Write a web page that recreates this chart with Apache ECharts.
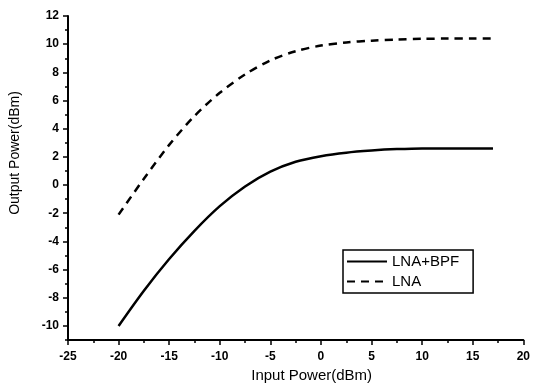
<!DOCTYPE html>
<html>
<head>
<meta charset="utf-8">
<script src="https://cdn.jsdelivr.net/npm/echarts@6/dist/echarts.min.js"></script>
<style>
  html, body { margin: 0; padding: 0; background: #fff; }
  #chart { width: 533px; height: 389px; }
</style>
</head>
<body>
<div id="chart"></div>
<script>
// input power (dBm)
const inputPower = [-20, -17.5, -15, -12.5, -10, -7.5, -5, -2.5, 0, 2.5, 5, 7.5, 10, 12.5, 15, 17];
// output power (dBm)
const lnaBpf = [-10, -7.5, -5.25, -3.25, -1.5, -0.1, 0.95, 1.65, 2.05, 2.3, 2.45, 2.55, 2.6, 2.6, 2.6, 2.6];
const lna = [-2.1, 0.45, 2.85, 4.9, 6.55, 7.85, 8.85, 9.5, 9.9, 10.12, 10.25, 10.33, 10.38, 10.4, 10.4, 10.4];
const yMajor = [-10, -8, -6, -4, -2, 0, 2, 4, 6, 8, 10, 12];
const yMinor = [-11, -9, -7, -5, -3, -1, 1, 3, 5, 7, 9, 11];

const font = 'Liberation Sans, Arial, sans-serif';

const chart = echarts.init(document.getElementById('chart'));

chart.setOption({
  backgroundColor: '#fff',
  animation: false,
  grid: { left: 67, right: 7, top: 16, bottom: 49 },
  legend: {
    orient: 'vertical',
    left: 343,
    top: 250,
    itemWidth: 40,
    itemHeight: 14,
    itemGap: 5,
    padding: [4, 14, 4, 3],
    borderColor: '#000',
    borderWidth: 1.5,
    itemStyle: { opacity: 0 },
    textStyle: { fontFamily: font, fontSize: 15, color: '#000' },
    data: ['LNA+BPF', 'LNA']
  },
  xAxis: {
    type: 'value',
    min: -25,
    max: 20,
    interval: 5,
    name: 'Input Power(dBm)',
    nameLocation: 'middle',
    nameGap: 28,
    nameTextStyle: { fontFamily: font, fontSize: 15, color: '#000', padding: [0, 0, 0, 32] },
    axisLine: { onZero: false, lineStyle: { color: '#000', width: 2 } },
    axisTick: { length: 5, lineStyle: { color: '#000', width: 1.5 } },
    minorTick: { show: true, splitNumber: 2, length: 3, lineStyle: { color: '#000', width: 1.5 } },
    axisLabel: { fontFamily: font, fontSize: 12, fontWeight: 'bold', color: '#000', margin: 11 },
    splitLine: { show: false }
  },
  yAxis: [
    {
      type: 'value',
      position: 'left',
      min: -11,
      max: 12,
      name: 'Output Power(dBm)',
      nameLocation: 'middle',
      nameGap: 46,
      nameTextStyle: { fontFamily: font, fontSize: 14, color: '#000', padding: [0, 0, 0, 50] },
      axisLine: { show: true, onZero: false, lineStyle: { color: '#000', width: 2 } },
      axisTick: { show: true, length: 5, customValues: yMajor, lineStyle: { color: '#000', width: 1.5 } },
      axisLabel: { customValues: yMajor, fontFamily: font, fontSize: 12, fontWeight: 'bold', color: '#000', margin: 9 },
      splitLine: { show: false }
    },
    {
      type: 'value',
      position: 'left',
      min: -11,
      max: 12,
      axisLine: { show: false, onZero: false },
      axisTick: { show: true, length: 3, customValues: yMinor, lineStyle: { color: '#000', width: 1.5 } },
      axisLabel: { show: false },
      splitLine: { show: false }
    }
  ],
  series: [
    {
      name: 'LNA+BPF',
      type: 'line',
      yAxisIndex: 0,
      smooth: 0.3,
      symbol: 'none',
      data: inputPower.map((x, i) => [x, lnaBpf[i]]),
      lineStyle: { color: '#000', width: 2.5 },
      itemStyle: { color: '#000' }
    },
    {
      name: 'LNA',
      type: 'line',
      yAxisIndex: 0,
      smooth: 0.3,
      symbol: 'none',
      data: inputPower.map((x, i) => [x, lna[i]]),
      lineStyle: { color: '#000', width: 2.5, type: [8, 6] },
      itemStyle: { color: '#000' }
    }
  ]
});
</script>
</body>
</html>
